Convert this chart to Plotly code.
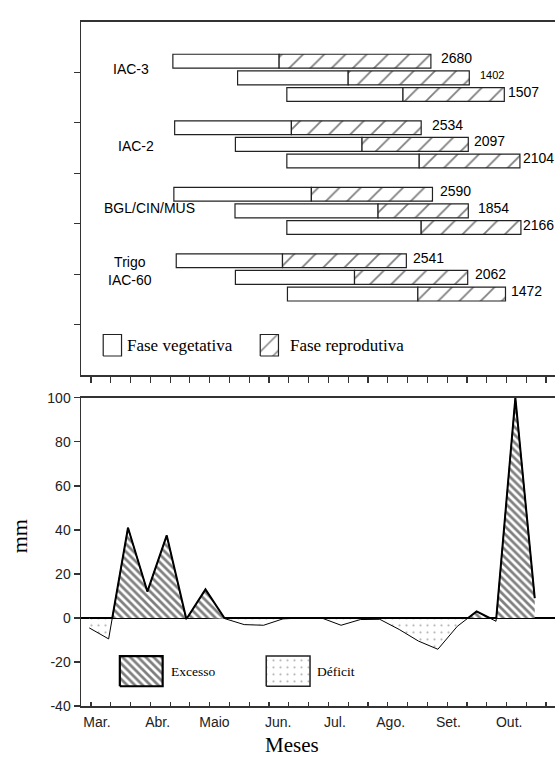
import numpy as np
import plotly.graph_objects as go

# reference geometry is expressed in pixels of a 555x758 page
PAGE_W, PAGE_H = 555, 758
W, H = 555, 766
SANS = "Liberation Sans, Arial, sans-serif"
SERIF = "Liberation Serif, Times New Roman, serif"
INK = "#222222"

# ---------------- data: top panel (days on the common season axis) ----------------
CULTIVARS = ["IAC-3", "IAC-2", "BGL/CIN/MUS", "Trigo<br>IAC-60"]
SOWING = [[41.4, 74.1, 99.0],
          [42.3, 73.0, 99.0],
          [41.9, 72.8, 99.0],
          [43.1, 73.0, 99.3]]
REPRO_START = [[95.1, 130.0, 157.7],
               [101.3, 137.0, 165.9],
               [111.4, 145.1, 166.9],
               [96.8, 133.2, 165.2]]
CYCLE_END = [[171.8, 191.2, 208.9],
             [166.9, 190.7, 216.8],
             [172.6, 190.7, 217.3],
             [159.4, 190.4, 209.5]]
DEGREE_DAYS = [[2680, 1402, 1507],
               [2534, 2097, 2104],
               [2590, 1854, 2166],
               [2541, 2062, 1472]]

# ---------------- data: bottom panel (10-day periods, Mar..Oct) ----------------
DECENDIOS = list(range(1, 25))
BALANCE = [-4.5, -9.5, 41.0, 12.0, 37.5, -0.7, 13.0, -0.3, -3.0, -3.3, -0.4, 0.0,
           0.0, -3.3, -0.7, -0.6, -5.2, -10.5, -14.2, -3.8, 3.0, -1.5, 100.0, 9.0]
MONTHS = ["Mar.", "Abr.", "Maio", "Jun.", "Jul.", "Ago.", "Set.", "Out."]
Y2_TICKS = [-40, -20, 0, 20, 40, 60, 80, 100]
Y2_TICKTEXT = ["-40", "-20", "0", "20", "40", "60", "80", "100"]

# ---------------- layout geometry (reference page pixels) ----------------
LEFT_PX = 81
RIGHT_PX = PAGE_W
TOP_PX = (14, 371)            # top panel frame (top, bottom)
BOT_PX = (394, 705.5)         # bottom panel frame (value 100, value -40)


def day_at(px):               # top panel scale: 10 days per 19.87 px, day 0 at px 91
    return (px - 91) / 1.987


def dec_at(px):               # bottom panel scale: period 1 at px 89.3, 19.45 px per period
    return 1 + (px - 89.3) / 19.45


X1_RANGE = [day_at(LEFT_PX), day_at(RIGHT_PX + 2)]
Y1_RANGE = [0, 7]
X2_RANGE = [dec_at(LEFT_PX), dec_at(RIGHT_PX + 2)]
Y2_RANGE = [-40, 100]
X2_TICK0, X2_DTICK = dec_at(91), 19.87 / 19.45
MONTH_POS = [dec_at(p) for p in (97, 158, 215, 279, 336, 392, 450, 511)]

GROUP_Y0, GROUP_STEP, ROW_STEP, BAR_W = 6.22, 1.318, 0.33, 0.275
LABEL_DX = [[8, 9, 2], [9, 4, 1], [6, 8, 0], [5, 5, 4]]
LABEL_SIZE = [[14, 11, 14], [14, 14, 14], [14, 14, 14], [14, 14, 14]]
CAT_POS_PX = [(131, 61.7), (136, 139.3), (149.7, 201.7), (130, 265.8)]


def xp(px):
    return px / PAGE_W


def yp(py):
    return 1 - py / PAGE_H


def top_y(py):
    return Y1_RANGE[0] + (TOP_PX[1] - py) / (TOP_PX[1] - TOP_PX[0]) * (Y1_RANGE[1] - Y1_RANGE[0])


def bot_y(py):
    return Y2_RANGE[0] + (BOT_PX[1] - py) / (BOT_PX[1] - BOT_PX[0]) * (Y2_RANGE[1] - Y2_RANGE[0])


def box(x0, x1, y0, y1):
    return [x0, x1, x1, x0, x0], [y0, y0, y1, y1, y0]


fig = go.Figure()

# ---------------- top panel bars ----------------
ys, veg_base, veg_len, rep_base, rep_len = [], [], [], [], []
annotations = []
for g in range(len(CULTIVARS)):
    for r in range(3):
        yy = GROUP_Y0 - GROUP_STEP * g - ROW_STEP * r
        ys.append(yy)
        veg_base.append(SOWING[g][r])
        veg_len.append(REPRO_START[g][r] - SOWING[g][r])
        rep_base.append(REPRO_START[g][r])
        rep_len.append(CYCLE_END[g][r] - REPRO_START[g][r])
        annotations.append(dict(
            x=CYCLE_END[g][r], y=yy, xref="x", yref="y", text=str(DEGREE_DAYS[g][r]),
            showarrow=False, xanchor="left", yanchor="middle",
            xshift=LABEL_DX[g][r], yshift=3,
            font=dict(family=SANS, size=LABEL_SIZE[g][r], color="black")))

HATCH_TOP = dict(shape="/", fgcolor="black", bgcolor="white", size=15, solidity=0.12)

fig.add_trace(go.Bar(
    orientation="h", y=ys, x=veg_len, base=veg_base, width=BAR_W,
    marker=dict(color="white", line=dict(color=INK, width=1.2)),
    xaxis="x", yaxis="y", showlegend=False, hoverinfo="skip"))
fig.add_trace(go.Bar(
    orientation="h", y=ys, x=rep_len, base=rep_base, width=BAR_W,
    marker=dict(color="white", line=dict(color=INK, width=1.2), pattern=HATCH_TOP),
    xaxis="x", yaxis="y", showlegend=False, hoverinfo="skip"))

for name, (cx, cy) in zip(CULTIVARS, CAT_POS_PX):
    annotations.append(dict(
        x=xp(cx), y=yp(cy), xref="paper", yref="paper", text=name, showarrow=False,
        xanchor="center", yanchor="middle", align="center",
        font=dict(family=SANS, size=14, color="black")))

# top legend swatches
bx, by = box(day_at(103.3), day_at(121.7), top_y(351.7), top_y(330))
fig.add_trace(go.Scatter(x=bx, y=by, mode="lines", fill="toself", fillcolor="white",
                         line=dict(color=INK, width=1.2), xaxis="x", yaxis="y",
                         showlegend=False, hoverinfo="skip"))
bx, by = box(day_at(261), day_at(279.3), top_y(351.7), top_y(330))
fig.add_trace(go.Scatter(x=bx, y=by, mode="lines", fill="toself",
                         fillpattern=dict(shape="/", fgcolor="black", bgcolor="white",
                                          size=12, solidity=0.12),
                         line=dict(color=INK, width=1.2), xaxis="x", yaxis="y",
                         showlegend=False, hoverinfo="skip"))
annotations.append(dict(x=xp(125), y=yp(341), xref="paper", yref="paper",
                        text="Fase vegetativa", showarrow=False, xanchor="left",
                        yanchor="middle", font=dict(family=SERIF, size=17, color="black")))
annotations.append(dict(x=xp(287.7), y=yp(341), xref="paper", yref="paper",
                        text="Fase reprodutiva", showarrow=False, xanchor="left",
                        yanchor="middle", font=dict(family=SERIF, size=17, color="black")))

# ---------------- bottom panel: water balance ----------------
xs_full, ys_full = [], []
for i, (xv, yv) in enumerate(zip(DECENDIOS, BALANCE)):
    if i > 0 and BALANCE[i - 1] * yv < 0:
        y0, x0 = BALANCE[i - 1], DECENDIOS[i - 1]
        t = y0 / (y0 - yv)
        xs_full.append(x0 + t * (xv - x0))
        ys_full.append(0.0)
    xs_full.append(xv)
    ys_full.append(yv)
ys_full = np.array(ys_full)

HATCH_EXC = dict(shape="\\", fgcolor="black", bgcolor="white", size=5.5, solidity=0.5)
DOTS_DEF = dict(shape=".", fgcolor="#666666", bgcolor="white", size=7, solidity=0.08)

fig.add_trace(go.Scatter(
    x=xs_full, y=np.minimum(ys_full, 0), mode="lines", fill="tozeroy",
    fillpattern=DOTS_DEF, line=dict(width=0, color="rgba(0,0,0,0)"),
    xaxis="x2", yaxis="y2", showlegend=False, hoverinfo="skip"))
fig.add_trace(go.Scatter(
    x=xs_full, y=np.maximum(ys_full, 0), mode="lines", fill="tozeroy",
    fillpattern=HATCH_EXC, line=dict(width=2, color="black"),
    xaxis="x2", yaxis="y2", showlegend=False, hoverinfo="skip"))
fig.add_trace(go.Scatter(
    x=DECENDIOS, y=BALANCE, mode="lines", line=dict(width=1, color="black"),
    xaxis="x2", yaxis="y2", showlegend=False, hoverinfo="skip"))

# bottom legend swatches
bx, by = box(dec_at(120), dec_at(163), bot_y(685.5), bot_y(655))
fig.add_trace(go.Scatter(x=bx, y=by, mode="lines", fill="toself", fillpattern=HATCH_EXC,
                         line=dict(color="black", width=2.2), xaxis="x2", yaxis="y2",
                         showlegend=False, hoverinfo="skip"))
bx, by = box(dec_at(267), dec_at(311), bot_y(685.5), bot_y(655))
fig.add_trace(go.Scatter(x=bx, y=by, mode="lines", fill="toself", fillpattern=DOTS_DEF,
                         line=dict(color=INK, width=1.5), xaxis="x2", yaxis="y2",
                         showlegend=False, hoverinfo="skip"))
annotations.append(dict(x=xp(169), y=yp(670.5), xref="paper", yref="paper",
                        text="Excesso", showarrow=False, xanchor="left", yanchor="middle",
                        font=dict(family=SERIF, size=13.5, color="black")))
annotations.append(dict(x=xp(315), y=yp(670.5), xref="paper", yref="paper",
                        text="Déficit", showarrow=False, xanchor="left", yanchor="middle",
                        font=dict(family=SERIF, size=13.5, color="black")))

# month labels axis helper trace
fig.add_trace(go.Scatter(x=[MONTH_POS[0]], y=[None], mode="lines", xaxis="x3", yaxis="y2",
                         showlegend=False, hoverinfo="skip"))

annotations.append(dict(x=xp(291.5), y=yp(745), xref="paper", yref="paper", text="Meses",
                        showarrow=False, xanchor="center", yanchor="middle",
                        font=dict(family=SERIF, size=21, color="black")))
annotations.append(dict(x=xp(19), y=yp(534), xref="paper", yref="paper", text="mm",
                        showarrow=False, xanchor="center", yanchor="middle", textangle=-90,
                        font=dict(family=SERIF, size=22, color="black")))

axis_line = dict(showline=True, linecolor="#333333", linewidth=1.5, showgrid=False,
                 zeroline=False)

fig.update_layout(
    width=W, height=H, margin=dict(l=0, r=0, t=0, b=0),
    paper_bgcolor="white", plot_bgcolor="white", barmode="overlay",
    showlegend=False, annotations=annotations,
    xaxis=dict(domain=[xp(LEFT_PX), 1], range=X1_RANGE, anchor="y", mirror=True,
               ticks="outside", ticklen=6, tickwidth=1.2, tickcolor="#333333",
               tick0=0, dtick=10, showticklabels=False, fixedrange=True, **axis_line),
    yaxis=dict(domain=[yp(TOP_PX[1]), yp(TOP_PX[0])], range=Y1_RANGE, anchor="x",
               ticks="outside", ticklen=6, tickwidth=1.2, tickcolor="#333333",
               tickvals=[1, 2, 3, 4, 5, 6], showticklabels=False, **axis_line),
    xaxis2=dict(domain=[xp(LEFT_PX), 1], range=X2_RANGE, anchor="y2", mirror=True,
                ticks="inside", ticklen=4, tickwidth=1.2, tickcolor="#333333",
                tick0=X2_TICK0, dtick=X2_DTICK, showticklabels=False, **axis_line),
    xaxis3=dict(overlaying="x2", anchor="y2", range=X2_RANGE, side="bottom",
                tickmode="array", tickvals=MONTH_POS, ticktext=MONTHS,
                ticks="outside", ticklen=3, tickcolor="rgba(0,0,0,0)",
                showline=False, showgrid=False, zeroline=False,
                tickfont=dict(family=SANS, size=14, color=INK)),
    yaxis2=dict(domain=[yp(BOT_PX[1]), yp(BOT_PX[0])], range=Y2_RANGE, anchor="x2",
                tickmode="array", tickvals=Y2_TICKS, ticktext=Y2_TICKTEXT,
                ticks="outside", ticklen=6, tickwidth=1.2,
                tickcolor="#333333", tickfont=dict(family=SANS, size=14, color=INK),
                showline=True, linecolor="#333333", linewidth=1.5, showgrid=False,
                zeroline=True, zerolinecolor="black", zerolinewidth=2.2),
)

fig.write_html(
    "out.html",
    config={"displayModeBar": False, "staticPlot": True},
    post_script="document.body.style.margin='0';document.body.style.padding='0';",
)
